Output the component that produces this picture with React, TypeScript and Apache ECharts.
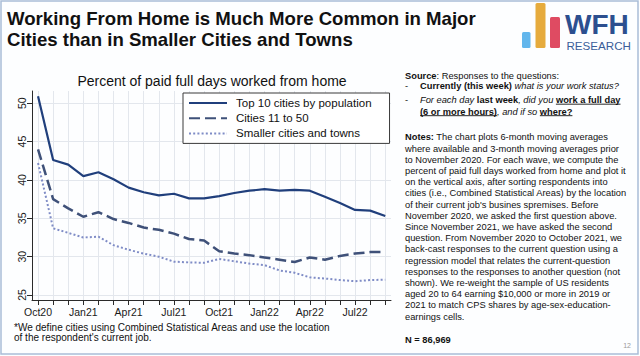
import React, { useEffect, useRef } from 'react';
import * as echarts from 'echarts';

// ---------- data ----------
const months = [
  'Oct20', 'Nov20', 'Dec20', 'Jan21', 'Feb21', 'Mar21', 'Apr21', 'May21', 'Jun21', 'Jul21', 'Aug21', 'Sep21',
  'Oct21', 'Nov21', 'Dec21', 'Jan22', 'Feb22', 'Mar22', 'Apr22', 'May22', 'Jun22', 'Jul22', 'Aug22', 'Sep22',
];
const xTickLabels = ['Oct20', 'Jan21', 'Apr21', 'Jul21', 'Oct21', 'Jan22', 'Apr22', 'Jul22'];
const yTickValues = [25, 30, 35, 40, 45, 50];

const top10 = [50.9, 42.6, 42.0, 40.5, 41.0, 40.1, 39.0, 38.4, 38.0, 38.2, 37.6, 37.6, 37.9, 38.3, 38.6, 38.8, 38.6, 38.7, 38.6, 37.8, 37.0, 36.1, 36.0, 35.3];
const cities11to50 = [44.0, 37.5, 36.3, 35.2, 35.8, 34.9, 34.4, 33.8, 33.5, 33.0, 32.3, 32.1, 30.7, 30.4, 30.2, 29.9, 29.6, 29.3, 29.9, 29.6, 30.1, 30.4, 30.6, 30.6];
const smallerCities = [42.2, 33.7, 33.1, 32.5, 32.6, 31.5, 30.9, 30.4, 30.0, 29.35, 29.25, 29.2, 29.7, 29.4, 29.1, 28.9, 28.2, 27.9, 27.3, 27.15, 26.95, 26.8, 26.95, 27.0];

const seriesNames = ['Top 10 cities by population', 'Cities 11 to 50', 'Smaller cities and towns'];

const titleLines = [
  'Working From Home is Much More Common in Major',
  'Cities than in Smaller Cities and Towns',
];
const chartTitle = 'Percent of paid full days worked from home';
const footnoteLines = [
  '*We define cities using Combined Statistical Areas and use the location',
  "of the respondent's current job.",
];
const notesFirstRest = ' The chart plots 6-month moving averages';
const notesLines = [
  'where available and 3-month moving averages prior',
  'to November 2020. For each wave, we compute the',
  'percent of paid full days worked from home and plot it',
  'on the vertical axis, after sorting respondents into',
  'cities (i.e., Combined Statistical Areas) by the location',
  "of their current job's busines spremises. Before",
  'November 2020, we asked the first question above.',
  'Since November 2021, we have asked the second',
  'question. From November 2020 to October 2021, we',
  'back-cast responses to the current question using a',
  'regression model that relates the current-question',
  'responses to the responses to another question (not',
  'shown). We re-weight the sample of US residents',
  'aged 20 to 64 earning $10,000 or more in 2019 or',
  '2021 to match CPS shares by age-sex-education-',
  'earnings cells.',
];
const sampleSize = 'N = 86,969';
const pageNumber = '12';

const FONT = '"Liberation Sans", Arial, Helvetica, sans-serif';

let measureCtx: CanvasRenderingContext2D | null = null;
function measure(text: string, size: number, weight = 'normal', style = 'normal') {
  if (!measureCtx) measureCtx = document.createElement('canvas').getContext('2d');
  if (!measureCtx) return text.length * size * 0.5;
  measureCtx.font = `${style} ${weight} ${size}px ${FONT}`;
  return measureCtx.measureText(text).width;
}

type Part = { t: string; k: 'n' | 'b' | 'i' | 'bu' };

function partsLine(x: number, y: number, parts: Part[], size: number, out: any[]) {
  let cx = x;
  for (const p of parts) {
    const weight = p.k === 'b' || p.k === 'bu' ? 'bold' : 'normal';
    const style = p.k === 'i' ? 'italic' : 'normal';
    const w = measure(p.t, size, weight, style);
    out.push({
      type: 'text', x: cx, y, silent: true,
      style: { text: p.t, fontFamily: FONT, fontSize: size, fontWeight: weight, fontStyle: style, fill: '#111', textVerticalAlign: 'middle', textAlign: 'left' },
    });
    if (p.k === 'bu') {
      const uy = y + size * 0.45;
      out.push({ type: 'line', silent: true, shape: { x1: cx, y1: uy, x2: cx + w, y2: uy }, style: { stroke: '#111', lineWidth: 0.9 } });
    }
    cx += w;
  }
}

function buildGraphics() {
  const g: any[] = [];
  // slide frame
  g.push({ type: 'rect', silent: true, shape: { x: 1, y: 1, width: 637, height: 353 }, style: { fill: 'none', stroke: '#a9bdd8', lineWidth: 1.5 }, z: 100 });
  // main title
  titleLines.forEach((t, i) => {
    g.push({ type: 'text', x: 7, y: 18.5 + i * 20.5, silent: true, style: { text: t, fontFamily: FONT, fontSize: 18.6, fontWeight: 'bold', fill: '#111', textVerticalAlign: 'middle' } });
  });
  // logo
  g.push({ type: 'rect', silent: true, shape: { x: 522, y: 32, width: 8.5, height: 16, r: 1.5 }, style: { fill: '#62b6ec' } });
  g.push({ type: 'rect', silent: true, shape: { x: 535.5, y: 3, width: 10, height: 45, r: 1.5 }, style: { fill: '#e6ab3d' } });
  g.push({ type: 'rect', silent: true, shape: { x: 550, y: 17, width: 10, height: 31, r: 1.5 }, style: { fill: '#df4b62' } });
  g.push({ type: 'text', x: 565, y: 24.5, silent: true, style: { text: 'WFH', fontFamily: FONT, fontSize: 28, fontWeight: 'bold', fill: '#2c4f8f', textVerticalAlign: 'middle' } });
  g.push({ type: 'text', x: 566.5, y: 45.5, silent: true, style: { text: 'RESEARCH', fontFamily: FONT, fontSize: 11.6, fill: '#3a5d98', textVerticalAlign: 'middle' } });
  // chart title
  g.push({ type: 'text', x: 212, y: 80.5, silent: true, style: { text: chartTitle, fontFamily: FONT, fontSize: 14, fill: '#111', textAlign: 'center', textVerticalAlign: 'middle' } });
  // footnote
  footnoteLines.forEach((t, i) => {
    g.push({ type: 'text', x: 14, y: 327 + i * 10.5, silent: true, style: { text: t, fontFamily: FONT, fontSize: 10, fill: '#111', textVerticalAlign: 'middle' } });
  });
  // right column
  const FS = 9.3;
  const RX = 405;
  const RX2 = 420;
  partsLine(RX, 75.5, [{ t: 'Source', k: 'b' }, { t: ': Responses to the questions:', k: 'n' }], FS, g);
  partsLine(RX, 86, [{ t: '-', k: 'n' }], FS, g);
  partsLine(RX2, 86, [{ t: 'Currently (this week)', k: 'b' }, { t: ' what is your work status?', k: 'i' }], FS, g);
  partsLine(RX, 100, [{ t: '-', k: 'n' }], FS, g);
  partsLine(RX2, 100, [{ t: 'For each day ', k: 'i' }, { t: 'last week', k: 'b' }, { t: ', did you ', k: 'i' }, { t: 'work a full day', k: 'bu' }], FS, g);
  partsLine(RX2, 111.5, [{ t: '(6 or more hours)', k: 'bu' }, { t: ', and if so ', k: 'i' }, { t: 'where?', k: 'bu' }], FS, g);
  const NY = 137.3;
  const LH = 11.2;
  partsLine(RX, NY, [{ t: 'Notes:', k: 'b' }, { t: notesFirstRest, k: 'n' }], FS, g);
  notesLines.forEach((t, i) => {
    partsLine(RX, NY + (i + 1) * LH, [{ t, k: 'n' }], FS, g);
  });
  partsLine(RX, 340, [{ t: sampleSize, k: 'b' }], FS, g);
  g.push({ type: 'text', x: 631, y: 345, silent: true, style: { text: pageNumber, fontFamily: FONT, fontSize: 7, fill: '#9a9a9a', textAlign: 'right', textVerticalAlign: 'middle' } });
  return g;
}

export default function App() {
  const ref = useRef<HTMLDivElement>(null);
  useEffect(() => {
    if (!ref.current) return;
    const chart = echarts.init(ref.current, null, { renderer: 'svg' });
    const toPairs = (arr: number[]) => arr.map((v, i) => [i, v]);
    const option: any = {
      animation: false,
      backgroundColor: '#fdfeff',
      textStyle: { fontFamily: FONT },
      grid: { left: 32, top: 91, width: 359, height: 209, containLabel: false },
      xAxis: {
        type: 'value',
        min: -0.4,
        max: 23.38,
        axisLine: { show: true, onZero: false, lineStyle: { color: '#2a2a2a', width: 1 } },
        axisTick: { show: true, customValues: months.map((_, i) => i), length: 5, lineStyle: { color: '#2a2a2a', width: 1 } },
        axisLabel: {
          customValues: xTickLabels.map((l) => months.indexOf(l)),
          formatter: (v: number) => months[Math.round(v)] || '',
          fontSize: 10.5, color: '#1a1a1a', margin: 6, fontFamily: FONT,
        },
        splitLine: { show: true, lineStyle: { color: '#e3e7ed', width: 1 } },
      },
      yAxis: {
        type: 'value',
        min: 24.35,
        max: 51.6,
        axisLine: { show: true, onZero: false, lineStyle: { color: '#2a2a2a', width: 1 } },
        axisTick: { show: true, customValues: yTickValues, length: 5, lineStyle: { color: '#2a2a2a', width: 1 } },
        axisLabel: { customValues: yTickValues, rotate: 90, fontSize: 10.5, color: '#1a1a1a', margin: 5, fontFamily: FONT },
        splitLine: { show: true, lineStyle: { color: '#e3e7ed', width: 1 } },
      },
      legend: {
        orient: 'vertical',
        left: 183,
        top: 93,
        padding: [4, 18, 4, 5],
        itemGap: 3.2,
        itemWidth: 38,
        itemHeight: 14,
        backgroundColor: '#ffffff',
        borderColor: '#3a3a3a',
        borderWidth: 1,
        borderRadius: 0,
        itemStyle: { color: 'rgba(0,0,0,0)', borderColor: 'rgba(0,0,0,0)', borderWidth: 0 },
        textStyle: { fontSize: 11.5, color: '#111', fontFamily: FONT, padding: [0, 0, 0, 4] },
        data: seriesNames,
      },
      series: [
        { name: seriesNames[0], type: 'line', data: toPairs(top10), symbol: 'none', lineStyle: { color: '#203f7c', width: 2.2, type: 'solid' }, itemStyle: { color: '#203f7c' }, z: 4 },
        { name: seriesNames[1], type: 'line', data: toPairs(cities11to50), symbol: 'none', lineStyle: { color: '#3f5179', width: 2.5, type: [11, 5] }, itemStyle: { color: '#3f5179' }, z: 3 },
        { name: seriesNames[2], type: 'line', data: toPairs(smallerCities), symbol: 'none', lineStyle: { color: '#7f8cc6', width: 2, type: [2, 2.2] }, itemStyle: { color: '#7f8cc6' }, z: 2 },
      ],
      graphic: buildGraphics(),
    };
    chart.setOption(option);
    return () => chart.dispose();
  }, []);
  return <div ref={ref} style={{ position: 'absolute', left: 0, top: 0, width: 640, height: 356 }} />;
}
